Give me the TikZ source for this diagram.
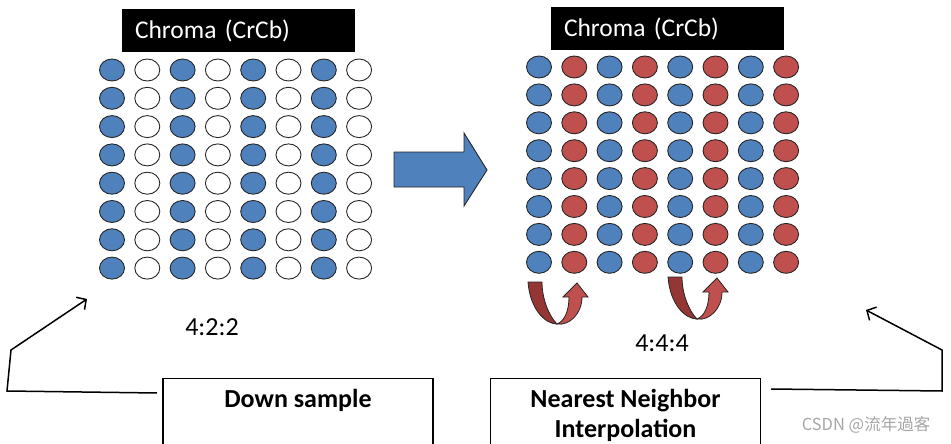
\documentclass[tikz,border=0pt]{standalone}
\usepackage{fontspec}
\setmainfont{Carlito}
\newfontfamily\cjkfont{Noto Sans CJK SC}
\usetikzlibrary{shapes.geometric, arrows.meta, positioning, calc}
\definecolor{chromablue}{HTML}{4F81BD}
\definecolor{chromared}{HTML}{C0504D}
\definecolor{turndark}{HTML}{943634}
\tikzset{
  dot/.style={ellipse, draw=black!85, line width=0.9pt, minimum width=25pt, minimum height=22pt, inner sep=0pt},
  titlebox/.style={fill=black, text=white, text width=207pt, align=left, inner xsep=13pt, minimum height=43pt, font=\fontsize{25.5}{29}\selectfont},
  labelbox/.style={draw, line width=1.4pt, minimum width=270pt, minimum height=100pt, anchor=north},
  labeltext/.style={font=\fontsize{26}{30}\selectfont\bfseries, align=center, anchor=north, inner sep=0pt},
  ratio/.style={font=\fontsize{26}{30}\selectfont},
  pointer/.style={line width=1.5pt, -{Straight Barb[length=7pt,width=15pt]}}
}
\begin{document}
\begin{tikzpicture}[x=1pt, y=-1pt]
\useasboundingbox (0,0) rectangle (951,444);
\clip (0,0) rectangle (951,444);

% Titles
\node[titlebox] (title422) at (238.5,30.5) {Chroma (CrCb)};
\node[titlebox] (title444) at (667.5,29) {Chroma (CrCb)};

% Down sampled grid (4:2:2)
\foreach \r in {0,...,7} {
  \foreach \c in {0,...,7} {
    \pgfmathsetmacro\x{112+35.3*\c}
    \pgfmathsetmacro\y{70+28.3*\r}
    \pgfmathparse{int(mod(\c,2))}
    \ifnum\pgfmathresult=0
      \node[dot, fill=chromablue] (l-\r-\c) at (\x,\y) {};
    \else
      \node[dot, fill=white] (l-\r-\c) at (\x,\y) {};
    \fi
  }
}

% Interpolated grid (4:4:4)
\foreach \r in {0,...,7} {
  \foreach \c in {0,...,7} {
    \pgfmathsetmacro\x{539+35.3*\c}
    \pgfmathsetmacro\y{67+27.9*\r}
    \pgfmathparse{int(mod(\c,2))}
    \ifnum\pgfmathresult=0
      \node[dot, fill=chromablue] (r-\r-\c) at (\x,\y) {};
    \else
      \node[dot, fill=chromared] (r-\r-\c) at (\x,\y) {};
    \fi
  }
}

% Big arrow
\filldraw[fill=chromablue, draw=black!85, line width=0.9pt]
  (394,152) -- (464,152) -- (464,133) -- (487,170) -- (464,206) -- (464,187) -- (394,187) -- cycle;

% U-turn arrows
\foreach \bx/\by in {557/324, 697/319} {
  \begin{scope}[shift={(\bx,\by)}]
    \filldraw[fill=turndark, draw=black!85, line width=0.8pt]
      (-29,-42) .. controls (-27,-15) and (-12,0) .. (0,0)
      .. controls (-8,-8) and (-15,-25) .. (-15,-42) -- cycle;
    \filldraw[fill=chromared, draw=black!85, line width=0.8pt]
      (0,0) .. controls (8,-3) and (12,-14) .. (12,-27) -- (6,-27) -- (20,-41)
      -- (31,-27) -- (25,-27) .. controls (25,-10) and (12,2) .. (0,0) -- cycle;
  \end{scope}
}

% Ratios
\node[ratio] (r422) at (212,327) {4:2:2};
\node[ratio] (r444) at (662,343) {4:4:4};

% Boxes
\node[labelbox] (down) at (298,378) {};
\node[labeltext, below=11pt of down.north] (downtext) {Down sample};
\node[labelbox] (interp) at (625.5,378) {};
\node[labeltext, below=11pt of interp.north] (interptext) {Nearest Neighbor\\Interpolation};

% Pointers
\coordinate (down-out) at (157,393);
\coordinate (down-tip) at (87,299);
\draw[pointer] (down-out) -- (7,391) -- (11,350) -- (down-tip);
\coordinate (interp-out) at (771,389);
\coordinate (interp-tip) at (866,310);
\draw[pointer] (interp-out) -- (942,391) -- (942,350) -- (interp-tip);

% Watermark
\node[text=black!35, font=\cjkfont\fontsize{16.5}{18}\selectfont] (mark) at (866,425) {CSDN @流年過客};
\end{tikzpicture}
\end{document}
